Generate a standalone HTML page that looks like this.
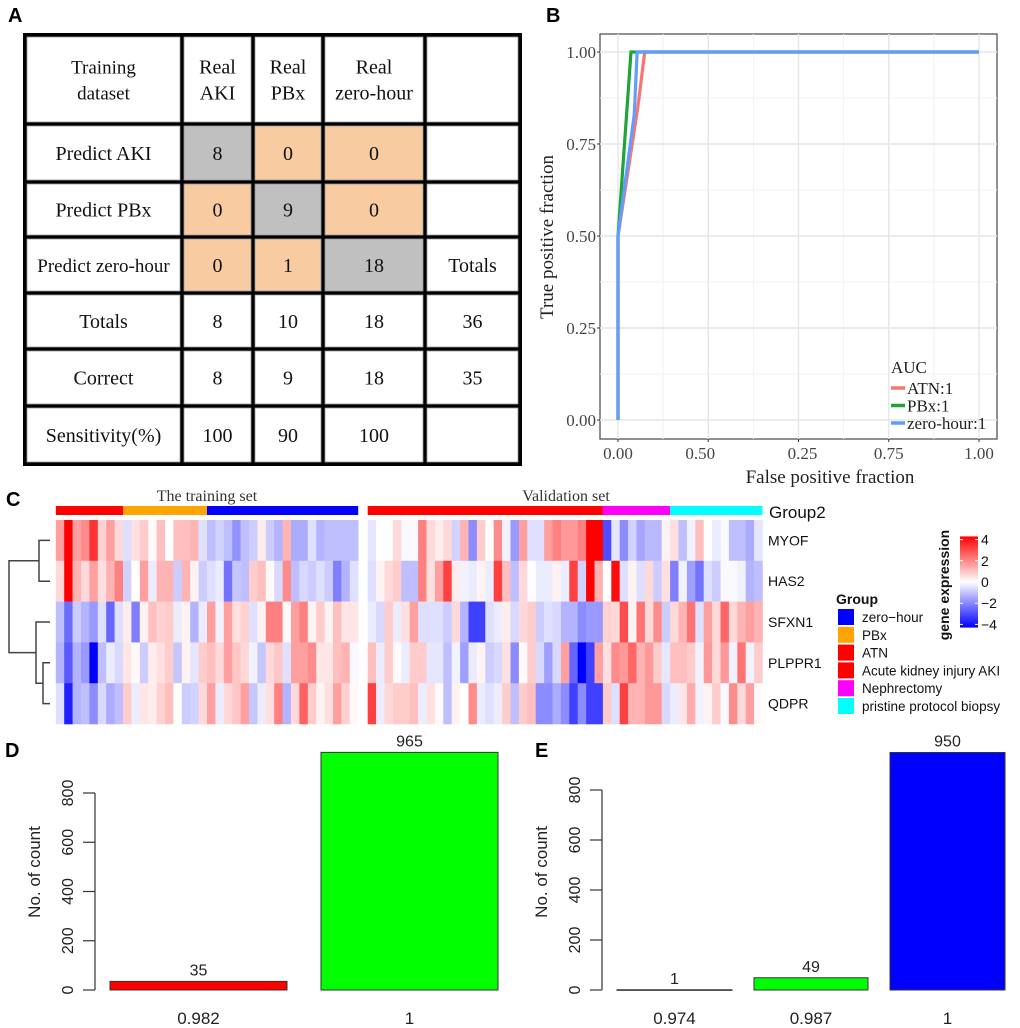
<!DOCTYPE html>
<html><head><meta charset="utf-8">
<style>
html,body{margin:0;padding:0;background:#fff;}
svg{display:block;}
.serif{font-family:"Liberation Serif",serif;}
.sans{font-family:"Liberation Sans",sans-serif;}
</style></head>
<body>
<svg id="fig" width="1020" height="1028" viewBox="0 0 1020 1028" xmlns="http://www.w3.org/2000/svg">
<text class="sans" x="8" y="22" font-size="20" font-weight="bold">A</text>
<text class="sans" x="546" y="22" font-size="20" font-weight="bold">B</text>
<text class="sans" x="6" y="506" font-size="20" font-weight="bold">C</text>
<text class="sans" x="5" y="757" font-size="20" font-weight="bold">D</text>
<text class="sans" x="535" y="757" font-size="20" font-weight="bold">E</text>

<g id="table"></g>
<g id="roc"></g>
<g id="heat"></g>
<g id="barD"></g>
<g id="barE"></g>
</svg>
<script>
// ---------- Table data ----------
const tableRows = [
  ["Training\ndataset","Real\nAKI","Real\nPBx","Real\nzero-hour",""],
  ["Predict AKI","8","0","0",""],
  ["Predict PBx","0","9","0",""],
  ["Predict zero-hour","0","1","18","Totals"],
  ["Totals","8","10","18","36"],
  ["Correct","8","9","18","35"],
  ["Sensitivity(%)","100","90","100",""]
];
const tableFill = [
  ["w","w","w","w","w"],
  ["w","g","o","o","w"],
  ["w","o","g","o","w"],
  ["w","o","o","g","w"],
  ["w","w","w","w","w"],
  ["w","w","w","w","w"],
  ["w","w","w","w","w"]
];
// ---------- ROC data ----------
const rocNames = ["ATN:1","PBx:1","zero-hour:1"];
const rocColors = ["#f8766d","#1ea53a","#619cff"];
const fprATN = [0,0,0.055,0.074,1];
const tprATN = [0,0.5,0.85,1,1];
const fprPBx = [0,0,0.036,0.05,1];
const tprPBx = [0,0.5,1,1,1];
const fprZero = [0,0,0.045,0.053,1];
const tprZero = [0,0.5,0.83,1,1];
const rocTicks = [0,0.25,0.5,0.75,1];
const rocYTickLabels = ["0.00","0.25","0.50","0.75","1.00"];
const rocXTickLabels = ["0.00","0.50","0.25","0.75","1.00"];
// ---------- Heatmap data ----------
const genes = ["MYOF","HAS2","SFXN1","PLPPR1","QDPR"];
const trainGroups = [["ATN",8],["PBx",10],["zero-hour",18]];
const validGroups = [["AKI",28],["Nephrectomy",8],["pristine",11]];
const trainMYOF = [1.5,4,1.5,1.8,3.2,0.7,1.5,0.6,-0.5,0.5,0.8,0.1,1.0,0,1.0,1.0,1.2,-0.5,-1.0,-0.7,-1.0,-1.7,-1.0,-0.8,0.3,-0.8,-1.2,1.2,-1.3,-1.3,-0.5,-1.2,-1,-1,-1,-1];
const trainHAS2 = [0.6,4,1.2,0.6,1.5,0.5,1.2,2.0,-0.7,0,1.5,-0.3,1.2,1.2,-0.8,1.2,0.2,-0.8,-0.5,-0.3,-2.2,-0.9,-1.0,0.8,1.0,0.1,-0.6,1.8,-1.0,-0.6,-0.8,-0.5,-0.8,-2.0,-1.2,-0.5];
const trainSFXN1 = [-1.0,-2.3,-0.8,-1.2,-1.6,-0.5,-2.4,-0.5,0.3,-2.0,0.2,1.0,0.7,0.8,-0.3,0.2,-1.2,-0.3,1.5,-0.2,1.5,0.5,0.7,-0.5,0.2,2.0,2.0,0.1,1.5,2.0,0.2,0.8,0.2,1.0,0.4,0.4];
const trainPLPPR1 = [-1.2,-2.6,-1.2,-1.6,-4,-1.0,-0.3,-0.6,0.4,0.1,-0.8,0.3,0.5,0.8,-0.9,0.2,-0.4,0.8,1.0,0.6,1.5,0.9,0.6,-0.2,-0.9,0.6,0.9,-0.5,1.5,1.5,1.8,0.4,0.4,1.0,1.2,-0.1];
const trainQDPR = [-0.5,-3.5,-1.2,-1.0,-1.8,-0.6,-1.3,-1.0,0.8,-0.3,0.4,0.3,0.7,1.0,0,-0.8,-0.7,0.6,1.5,-0.3,0.6,0.9,1.5,-0.9,-0.3,0.5,2.0,-1.2,0.6,2.5,0.8,0.2,0.5,1.5,0.7,0.1];
const validMYOF = [-0.4,0,0,0.6,-0.1,-0.1,2.0,0.6,0.3,0.6,-0.7,1.2,-1.8,0.8,0,1.8,-0.2,-1.6,1.5,-0.5,-0.5,1.5,2.0,1.6,1.6,2.0,4,4,-2.8,-0.4,-1.8,-0.7,-1.4,-1.1,-1.1,0.2,0.5,-1.0,-0.2,1.0,0,-0.3,-0.1,-1.0,-1.0,-1.3,-0.4];
const validHAS2 = [-0.5,0.2,0.6,0.8,-1.0,-1.0,2.0,0.5,1.5,3.0,0.3,-0.2,-0.3,0.2,-0.3,3.0,1.0,-1.0,0.6,0,-0.3,-0.3,0.2,-0.3,3.0,-0.7,4,1.2,0,3.8,-0.5,0.2,-0.5,0.6,-0.8,0.5,-2.0,-0.2,-1.5,-2.2,-0.5,-0.8,-0.1,-0.1,-0.2,-1.2,-1.0];
const validSFXN1 = [-0.3,-0.6,0.8,-0.3,0.5,1.5,-0.5,-0.5,-0.5,-0.8,0.6,-1.2,-3.0,-3.0,-0.5,-0.3,0.3,-0.6,0.6,0.8,-0.8,-0.5,-0.6,-1.2,-1.2,-1.8,-1.6,-1.6,0.7,0.6,2.8,0.2,2.2,0.6,1.8,-0.8,0.6,1.2,2.2,-0.5,1.5,0.6,2.4,0.6,1.2,1.5,1.2];
const validPLPPR1 = [1.0,-0.3,0.8,0.1,-0.3,0.8,0.8,-0.4,-0.4,-1.0,-0.2,-1.5,-0.3,0.2,-0.8,-0.6,0.5,-1.8,0.1,0.8,-0.6,-1.5,-0.6,1.5,-2.4,-4,-3,1.5,0.5,1.8,1.6,2.4,1.2,1.6,0.8,-0.4,1.0,1.0,0.8,-0.2,1.6,0.6,1.6,-0.2,2.2,-0.2,0.8];
const validQDPR = [3.0,-0.3,0.6,0.8,0.8,1.0,-0.3,0.5,0.1,-1.0,0.2,0,1.8,-0.3,-0.5,-0.3,0.8,-1.0,0.8,1.0,-1.8,-1.8,-1.3,-1.8,-3.0,-1.8,-3,-3,0.8,-0.5,3.0,1.2,1.2,1.6,1.6,-0.6,-0.3,0.4,1.3,-0.2,0.2,0.8,-0.1,1.8,0.6,1.5,0.1];
const legendGroups = ["zero\u2212hour","PBx","ATN","Acute kidney injury AKI","Nephrectomy","pristine protocol biopsy"];
const colorbarTicks = [4,2,0,-2,-4];
const colorbarLabels = ["4","2","0","\u22122","\u22124"];
// ---------- Bar data ----------
const catsD = ["0.982","1"];
const valsD = [35,965];
const catsE = ["0.974","0.987","1"];
const valsE = [1,49,950];
const barTicks = [0,200,400,600,800];

const NS = "http://www.w3.org/2000/svg";
function mk(tag, attrs, parent, text){
  const e = document.createElementNS(NS, tag);
  for (const k in attrs) e.setAttribute(k, attrs[k]);
  if (text !== undefined) e.textContent = text;
  parent.appendChild(e);
  return e;
}
const groupColor = {"ATN":"#ff0000","PBx":"#ffa500","zero-hour":"#0000ff","AKI":"#ff0000","Nephrectomy":"#ff00ff","pristine":"#00ffff"};

// ---------- Table ----------
(function(){
  const g = document.getElementById('table');
  const colX = [[27,180],[184,251],[255,321],[325,423],[427,518]];
  const rowY = [[37,122],[126,180],[184,235],[239,291],[295,347],[351,404],[408,462]];
  const bg = mk('rect',{x:23,y:33,width:499,height:433,fill:'#000'},g);
  
  
  const fills = {w:'#ffffff',g:'#c0c0c0',o:'#f8cba0'};
  tableRows.forEach((row,r)=>{
    row.forEach((txt,c)=>{
      const [x0,x1] = colX[c], [y0,y1] = rowY[r];
      const cell = mk('rect',{x:x0,y:y0,width:x1-x0,height:y1-y0,fill:fills[tableFill[r][c]],stroke:'#999','stroke-width':0.8},g);
      
      
      if (!txt) return;
      const lines = txt.split('\n');
      const cx = (x0+x1)/2, cy = (y0+y1)/2;
      const fs = txt.length>15 ? 19 : 20;
      lines.forEach((ln,i)=>{
        const t = mk('text',{x:cx,y:cy+7+(i-(lines.length-1)/2)*26,'text-anchor':'middle','font-size':fs,class:'serif',fill:'#111'},g,ln);
        
        
      });
    });
  });
})();

// ---------- ROC ----------
(function(){
  const g = document.getElementById('roc');
  const X = v => 618 + v*361, Y = v => 420 - v*368;
  const panel = mk('rect',{x:600,y:34,width:397,height:405,fill:'#fff',stroke:'#555','stroke-width':1.3},g);
  
  
  for (let i=0;i<4;i++){
    const m = (rocTicks[i]+rocTicks[i+1])/2;
    const a = mk('line',{x1:X(m),x2:X(m),y1:34,y2:439,stroke:'#f2f2f2','stroke-width':1},g);
    
    
    const b = mk('line',{x1:600,x2:997,y1:Y(m),y2:Y(m),stroke:'#f2f2f2','stroke-width':1},g);
    
    
  }
  rocTicks.forEach((v,i)=>{
    const a = mk('line',{x1:X(v),x2:X(v),y1:34,y2:439,stroke:'#e6e6e6','stroke-width':1.4},g);
    
    
    const b = mk('line',{x1:600,x2:997,y1:Y(v),y2:Y(v),stroke:'#e6e6e6','stroke-width':1.4},g);
    
    
    const t1 = mk('text',{x:596,y:Y(v)+6,'text-anchor':'end','font-size':17,class:'serif',fill:'#444'},g,rocYTickLabels[i]);
    
    
    const t2 = mk('text',{x:X(v)+(i==1?-8:(i==2?4:0)),y:459,'text-anchor':'middle','font-size':17,class:'serif',fill:'#444'},g,rocXTickLabels[i]);
    
    
    const k1 = mk('line',{x1:597,x2:600,y1:Y(v),y2:Y(v),stroke:'#333'},g);
    
    
    const k2 = mk('line',{x1:X(v),x2:X(v),y1:439,y2:442,stroke:'#333'},g);
    
    
  });
  const series = [[fprATN,tprATN],[fprPBx,tprPBx],[fprZero,tprZero]];
  series.forEach((s,k)=>{
    const pts = s[0].map((f,i)=>X(f)+','+Y(s[1][i])).join(' ');
    const l = mk('polyline',{points:pts,fill:'none',stroke:rocColors[k],'stroke-width':3.2},g);
    
    
  });
  const yt = mk('text',{x:0,y:0,transform:'translate(553,237) rotate(-90)','text-anchor':'middle','font-size':19,class:'serif',fill:'#222'},g,'True positive fraction');
  
  
  const xt = mk('text',{x:830,y:483,'text-anchor':'middle','font-size':19,class:'serif',fill:'#222'},g,'False positive fraction');
  
  
  const lt = mk('text',{x:891,y:373,'font-size':17,class:'serif',fill:'#222'},g,'AUC');
  
  
  rocNames.forEach((n,k)=>{
    const yy = 388 + k*17.5;
    const l = mk('line',{x1:891,x2:905,y1:yy,y2:yy,stroke:rocColors[k],'stroke-width':3.5},g);
    
    
    const t = mk('text',{x:907,y:yy+6,'font-size':17,class:'serif',fill:'#222'},g,n);
    
    
  });
})();

// ---------- Heatmap ----------
(function(){
  const g = document.getElementById('heat');
  function col(v){
    v = Math.max(-4,Math.min(4,v));
    const t = Math.abs(v)/4;
    const c = Math.round(255*(1-t));
    return v>=0 ? `rgb(255,${c},${c})` : `rgb(${c},${c},255)`;
  }
  const rowH = 40.8, y0 = 520, cw = 8.4;
  const train = [trainMYOF,trainHAS2,trainSFXN1,trainPLPPR1,trainQDPR];
  const valid = [validMYOF,validHAS2,validSFXN1,validPLPPR1,validQDPR];
  function block(data, groups, x0){
    data.forEach((row,r)=>{
      row.forEach((v,i)=>{
        const c = mk('rect',{x:x0+i*cw,y:y0+r*rowH,width:cw+0.3,height:rowH+0.3,fill:col(v)},g);
        
        
      });
    });
    let idx = 0;
    groups.forEach(([name,n])=>{
      const a = mk('rect',{x:x0+idx*cw,y:506,width:n*cw,height:9,fill:groupColor[name]},g);
      
      
      idx += n;
    });
  }
  block(train, trainGroups, 55.8);
  block(valid, validGroups, 367.7);
  const t1 = mk('text',{x:207,y:501,'text-anchor':'middle','font-size':16,class:'serif',fill:'#333'},g,'The training set');
  
  
  const t2 = mk('text',{x:566,y:501,'text-anchor':'middle','font-size':16,class:'serif',fill:'#333'},g,'Validation set');
  
  
  const g2 = mk('text',{x:769,y:518,'font-size':17,class:'sans',fill:'#111'},g,'Group2');
  
  
  genes.forEach((n,r)=>{
    const t = mk('text',{x:768,y:y0+r*rowH+rowH/2+5,'font-size':14,class:'sans',fill:'#111'},g,n);
    
    
  });
  const yc = r => y0 + r*rowH + rowH/2;
  const d = `M50 ${yc(0)} H39 V${yc(1)} H50 M50 ${yc(3)} H43 V${yc(4)} H50 M50 ${yc(2)} H36 V${(yc(3)+yc(4))/2} H43 M39 ${(yc(0)+yc(1))/2} H9 V${(yc(2)+(yc(3)+yc(4))/2)/2} H36`;
  const dp = mk('path',{d:d,fill:'none',stroke:'#444','stroke-width':1.5},g);
  
  
  const gt = mk('text',{x:836,y:604,'font-size':14,'font-weight':'bold',class:'sans',fill:'#111'},g,'Group');
  
  
  const legCols = ["#0000ff","#ffa500","#ff0000","#ff0000","#ff00ff","#00ffff"];
  legendGroups.forEach((n,i)=>{
    const yy = 609 + i*17.8;
    const s = mk('rect',{x:838,y:yy,width:16,height:16,fill:legCols[i]},g);
    
    
    const t = mk('text',{x:862,y:yy+13,'font-size':13.5,class:'sans',fill:'#111'},g,n);
    
    
  });
  const defs = mk('defs',{},g);
  const lg = mk('linearGradient',{id:'cb',x1:0,y1:0,x2:0,y2:1},defs);
  mk('stop',{offset:'0%','stop-color':'#ff0000'},lg);
  mk('stop',{offset:'50%','stop-color':'#ffffff'},lg);
  mk('stop',{offset:'100%','stop-color':'#0000ff'},lg);
  const cbY = v => 582 - v*10.6;
  const cb = mk('rect',{x:960,y:cbY(4.3),width:18,height:cbY(-4.3)-cbY(4.3),fill:'url(#cb)'},g);
  
  
  colorbarTicks.forEach((v,i)=>{
    const t = mk('text',{x:981,y:cbY(v)+5,'font-size':14,class:'sans',fill:'#111'},g,colorbarLabels[i]);
    
    
    const k = mk('line',{x1:960,x2:978,y1:cbY(v),y2:cbY(v),stroke:'#fff','stroke-width':1,'stroke-dasharray':'3 12'},g);
    
    
  });
  const ct = mk('text',{x:0,y:0,transform:'translate(949,585) rotate(-90)','text-anchor':'middle','font-size':14,'font-weight':'bold',class:'sans',fill:'#111'},g,'gene expression');
  
  
})();

// ---------- Bar charts ----------
function barChart(id, cats, vals, colors, axisX, y800, bars){
  const g = document.getElementById(id);
  const Y = v => 990 - v*(990-y800)/800;
  const ax = mk('path',{d:`M${axisX} ${Y(0)} V${Y(800)}`,stroke:'#333','stroke-width':1.2,fill:'none'},g);
  
  
  barTicks.forEach(v=>{
    const k = mk('line',{x1:axisX-12,x2:axisX,y1:Y(v),y2:Y(v),stroke:'#333','stroke-width':1.2},g);
    
    
    const t = mk('text',{x:0,y:0,transform:`translate(${axisX-22},${Y(v)}) rotate(-90)`,'text-anchor':'middle','font-size':16,class:'sans',fill:'#222'},g,String(v));
    
    
  });
  const yt = mk('text',{x:0,y:0,transform:`translate(${axisX-55},872) rotate(-90)`,'text-anchor':'middle','font-size':17,class:'sans',fill:'#222'},g,'No. of count');
  
  
  cats.forEach((c,i)=>{
    const [x0,x1] = bars[i];
    const b = mk('rect',{x:x0,y:Y(vals[i]),width:x1-x0,height:Math.max(0.6,Y(0)-Y(vals[i])),fill:colors[i],stroke:'#333','stroke-width':1},g);
    
    
    const vl = mk('text',{x:(x0+x1)/2,y:Y(vals[i])-6,'text-anchor':'middle','font-size':16,class:'sans',fill:'#222'},g,String(vals[i]));
    
    
    const cl = mk('text',{x:(x0+x1)/2,y:1024,'text-anchor':'middle','font-size':17,class:'sans',fill:'#222'},g,c);
    
    
  });
}
barChart('barD', catsD, valsD, ['#ff0000','#00ff00'], 95, 793, [[110,287],[321,498]]);
barChart('barE', catsE, valsE, ['#ff0000','#00ff00','#0000ff'], 602, 790, [[617,732],[754,868],[890,1005]]);
</script>
</body></html>
